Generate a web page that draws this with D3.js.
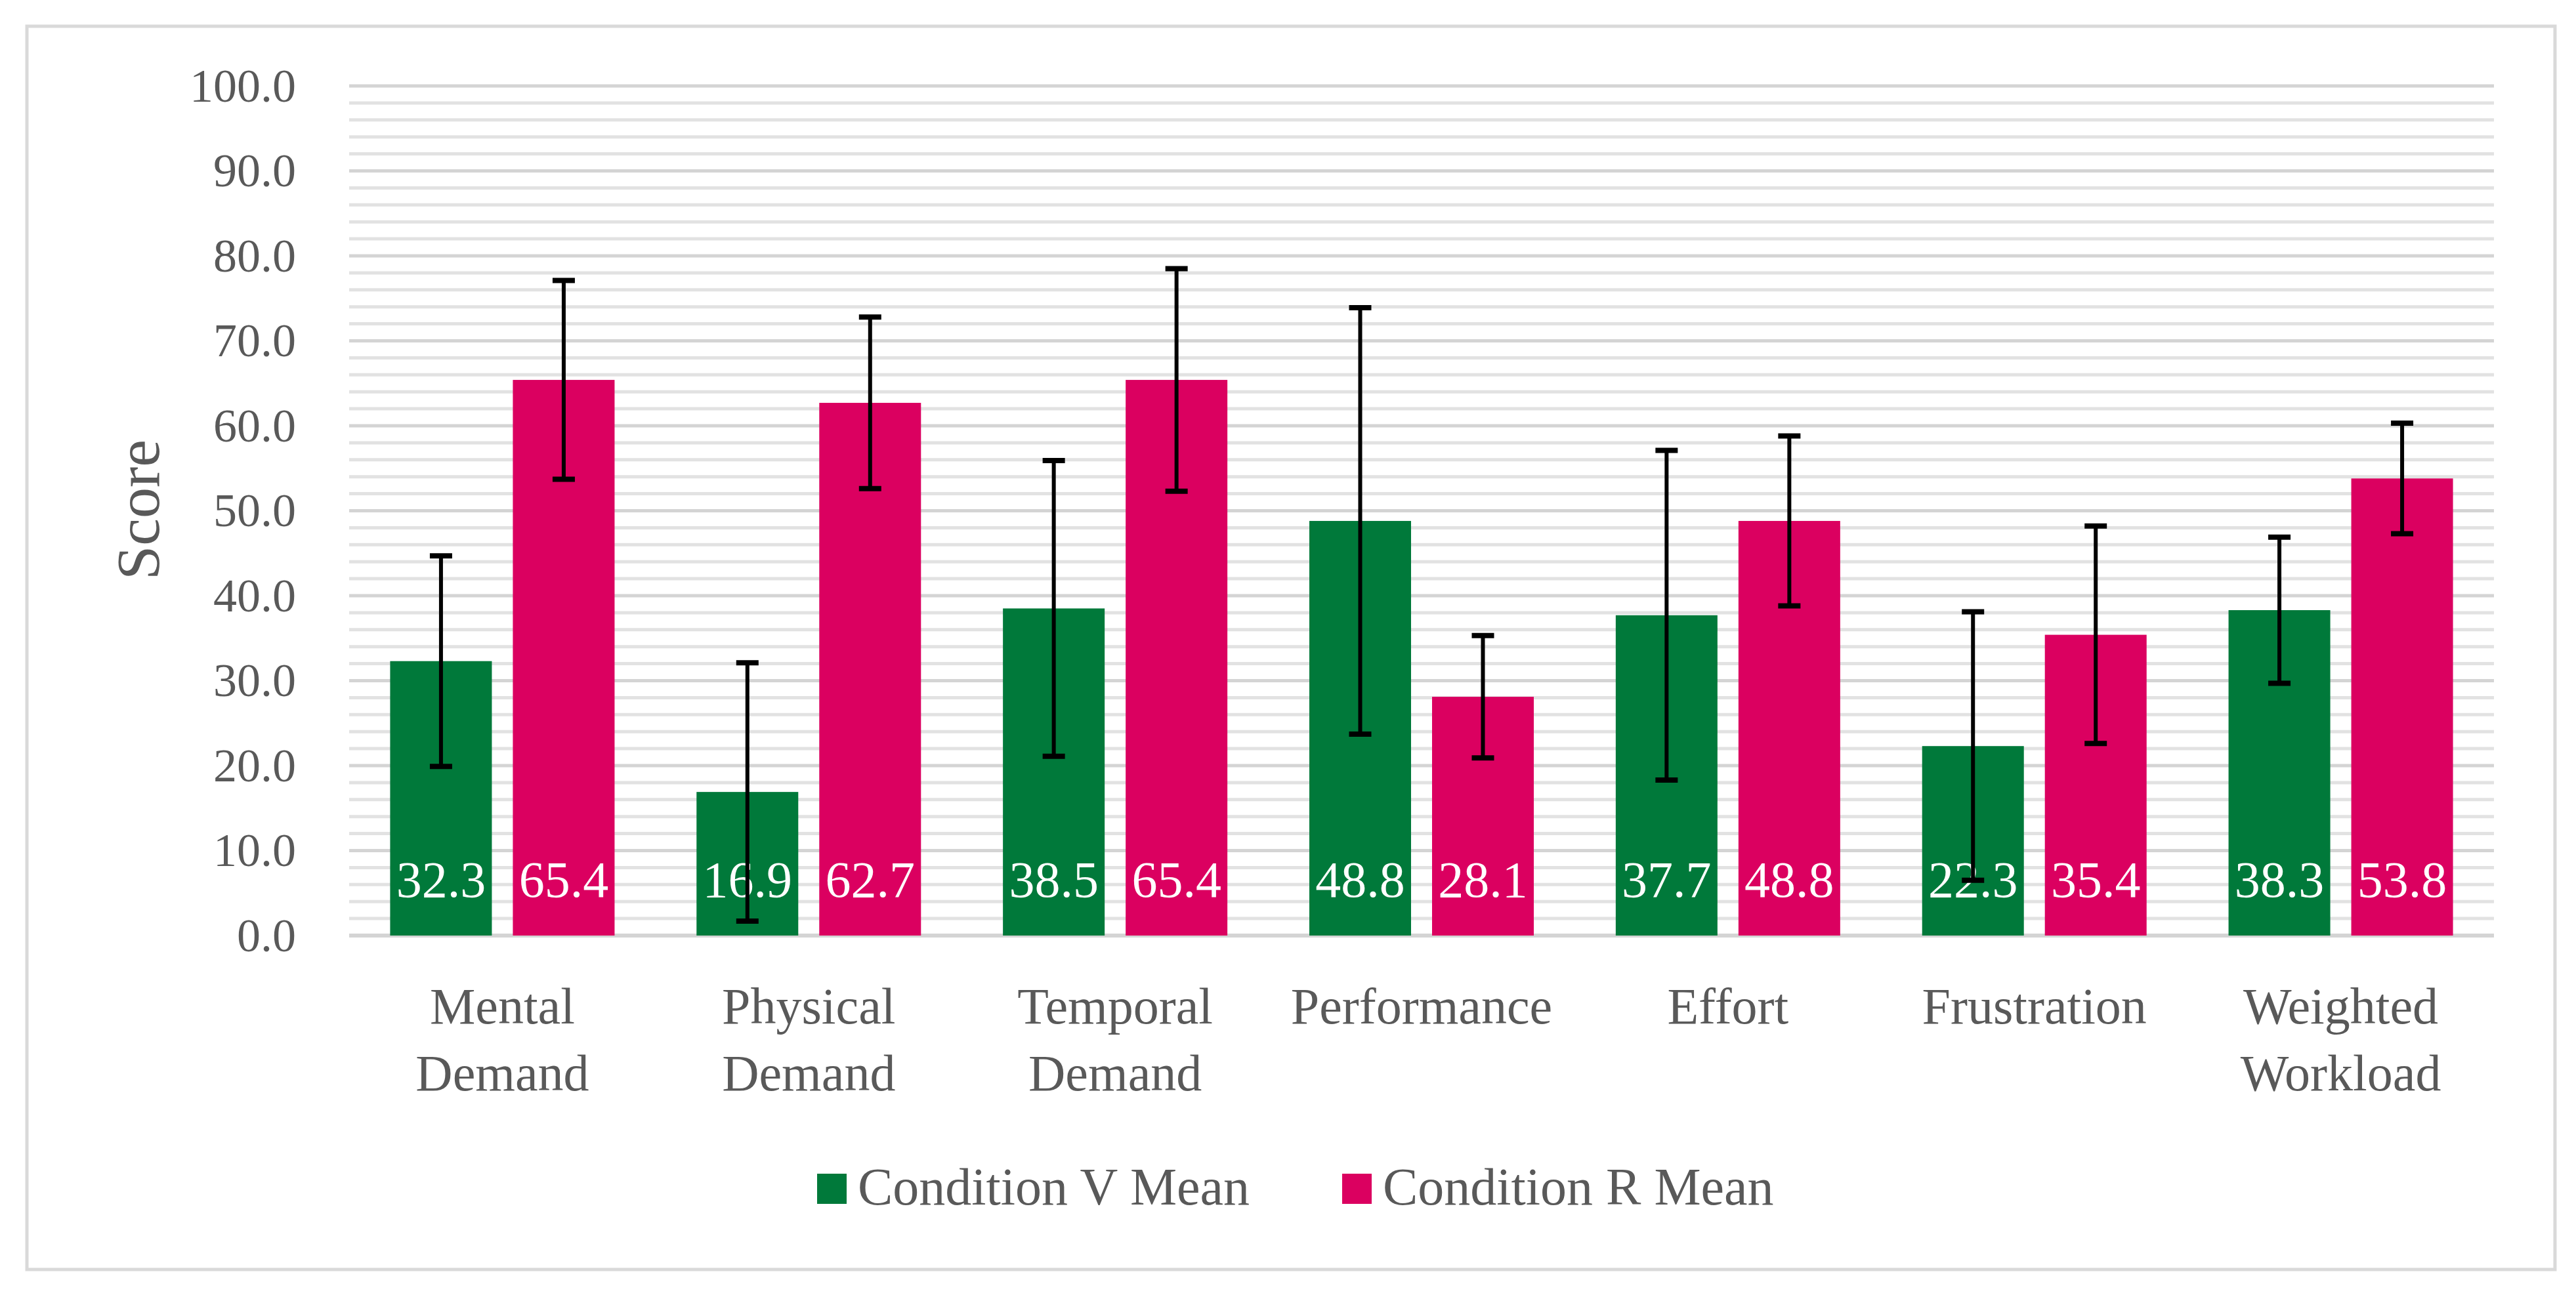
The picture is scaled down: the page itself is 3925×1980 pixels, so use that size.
<!DOCTYPE html>
<html>
<head>
<meta charset="utf-8">
<script src="https://cdn.jsdelivr.net/npm/d3@7"></script>
<style>
    body { margin: 0; background: #fff; }
    text { font-family: "Palatino Linotype", "Book Antiqua", Palatino, "Liberation Serif", serif; }
</style>
</head>
<body>
<div id="chart"></div>
<script>
// categories and series
const categories = [['Mental', 'Demand'], ['Physical', 'Demand'], ['Temporal', 'Demand'], ['Performance'], ['Effort'], ['Frustration'], ['Weighted', 'Workload']];
const seriesNames = ['Condition V Mean', 'Condition R Mean'];
const meanV = [32.3, 16.9, 38.5, 48.8, 37.7, 22.3, 38.3];
const meanR = [65.4, 62.7, 65.4, 28.1, 48.8, 35.4, 53.8];
const errV = [12.4, 15.2, 17.4, 25.1, 19.4, 15.8, 8.6];
const errR = [11.7, 10.1, 13.1, 7.2, 10.0, 12.8, 6.5];
const majorTicks = [0, 10, 20, 30, 40, 50, 60, 70, 80, 90, 100];
const minorTicks = d3.range(0, 101, 2);

function init() {
    const width = 3925, height = 1980;
    const colors = ['#00793A', '#DB0060'];

    const svg = d3.select('#chart').append('svg')
        .attr('width', width)
        .attr('height', height);

    // outer frame
    svg.append('rect')
        .attr('x', 41).attr('y', 40)
        .attr('width', 3852).attr('height', 1895)
        .attr('fill', '#fff')
        .attr('stroke', '#d9d9d9')
        .attr('stroke-width', 5);

    const plotLeft = 532, plotRight = 3800;
    const y = d3.scaleLinear().domain([0, 100]).range([1426, 131]);
    const x0 = d3.scaleBand()
        .domain(d3.range(categories.length))
        .range([plotLeft, plotRight]);
    const barW = 155, barGap = 32;

    // gridlines
    svg.append('g').selectAll('line')
        .data(minorTicks.filter(d => d % 10 !== 0))
        .enter().append('line')
        .attr('x1', plotLeft).attr('x2', plotRight)
        .attr('y1', d => y(d)).attr('y2', d => y(d))
        .attr('stroke', '#e2e2e2')
        .attr('stroke-width', 5);

    svg.append('g').selectAll('line')
        .data(majorTicks)
        .enter().append('line')
        .attr('x1', plotLeft).attr('x2', plotRight)
        .attr('y1', d => y(d)).attr('y2', d => y(d))
        .attr('stroke', '#d4d4d4')
        .attr('stroke-width', d => d === 0 ? 6 : 5);

    // y axis labels
    const yAxis = d3.axisLeft(y).tickValues(majorTicks).tickFormat(d3.format('.1f')).tickSize(0).tickPadding(81);
    const ya = svg.append('g').attr('transform', `translate(${plotLeft},0)`).call(yAxis);
    ya.select('.domain').remove();
    ya.selectAll('text')
        .attr('fill', '#595959')
        .style('font-size', '72px')
        .style('font-family', '"Palatino Linotype", "Book Antiqua", Palatino, "Liberation Serif", serif');

    svg.append('text')
        .attr('transform', `translate(242,777) rotate(-90)`)
        .attr('text-anchor', 'middle')
        .attr('fill', '#595959')
        .style('font-size', '94px')
        .text('Score');

    // bars
    const rows = categories.map((c, i) => [
        { s: 0, i: i, v: meanV[i], e: errV[i] },
        { s: 1, i: i, v: meanR[i], e: errR[i] }
    ]);

    const groups = svg.append('g').selectAll('g')
        .data(rows)
        .enter().append('g')
        .attr('transform', (d, i) => `translate(${x0(i) + x0.bandwidth() / 2},0)`);

    const bx = d => d.s === 0 ? -barGap / 2 - barW : barGap / 2;

    groups.selectAll('rect')
        .data(d => d)
        .enter().append('rect')
        .attr('x', bx)
        .attr('y', d => y(d.v))
        .attr('width', barW)
        .attr('height', d => y(0) - y(d.v))
        .attr('fill', d => colors[d.s]);

    groups.selectAll('text.val')
        .data(d => d)
        .enter().append('text')
        .attr('class', 'val')
        .attr('x', d => bx(d) + barW / 2)
        .attr('y', y(0) - 59)
        .attr('text-anchor', 'middle')
        .attr('fill', '#fff')
        .style('font-size', '78px')
        .text(d => d.v.toFixed(1));

    // error bars
    const eb = groups.selectAll('g.err')
        .data(d => d)
        .enter().append('g')
        .attr('class', 'err')
        .attr('transform', d => `translate(${bx(d) + barW / 2},0)`);

    eb.append('line')
        .attr('x1', 0).attr('x2', 0)
        .attr('y1', d => y(d.v + d.e)).attr('y2', d => y(d.v - d.e))
        .attr('stroke', '#000').attr('stroke-width', 6);
    eb.append('line')
        .attr('x1', -17).attr('x2', 17)
        .attr('y1', d => y(d.v + d.e)).attr('y2', d => y(d.v + d.e))
        .attr('stroke', '#000').attr('stroke-width', 8);
    eb.append('line')
        .attr('x1', -17).attr('x2', 17)
        .attr('y1', d => y(d.v - d.e)).attr('y2', d => y(d.v - d.e))
        .attr('stroke', '#000').attr('stroke-width', 8);

    // category labels
    const catText = svg.append('g').selectAll('text')
        .data(categories)
        .enter().append('text')
        .attr('x', (d, i) => x0(i) + x0.bandwidth() / 2)
        .attr('y', 1560)
        .attr('text-anchor', 'middle')
        .attr('fill', '#595959')
        .style('font-size', '78px');
    catText.selectAll('tspan')
        .data(d => d)
        .enter().append('tspan')
        .attr('x', function () { return d3.select(this.parentNode).attr('x'); })
        .attr('dy', (d, j) => j === 0 ? 0 : 102)
        .text(d => d);

    // legend
    const legendX = [1245, 2045];
    const leg = svg.append('g').selectAll('g')
        .data(seriesNames)
        .enter().append('g')
        .attr('transform', (d, i) => `translate(${legendX[i]},0)`);
    leg.append('rect')
        .attr('x', 0).attr('y', 1789)
        .attr('width', 45).attr('height', 46)
        .attr('fill', (d, i) => colors[i]);
    leg.append('text')
        .attr('x', 62).attr('y', 1836)
        .attr('fill', '#595959')
        .style('font-size', '80px')
        .text(d => d);
}

window.onload = init;
</script>
</body>
</html>
